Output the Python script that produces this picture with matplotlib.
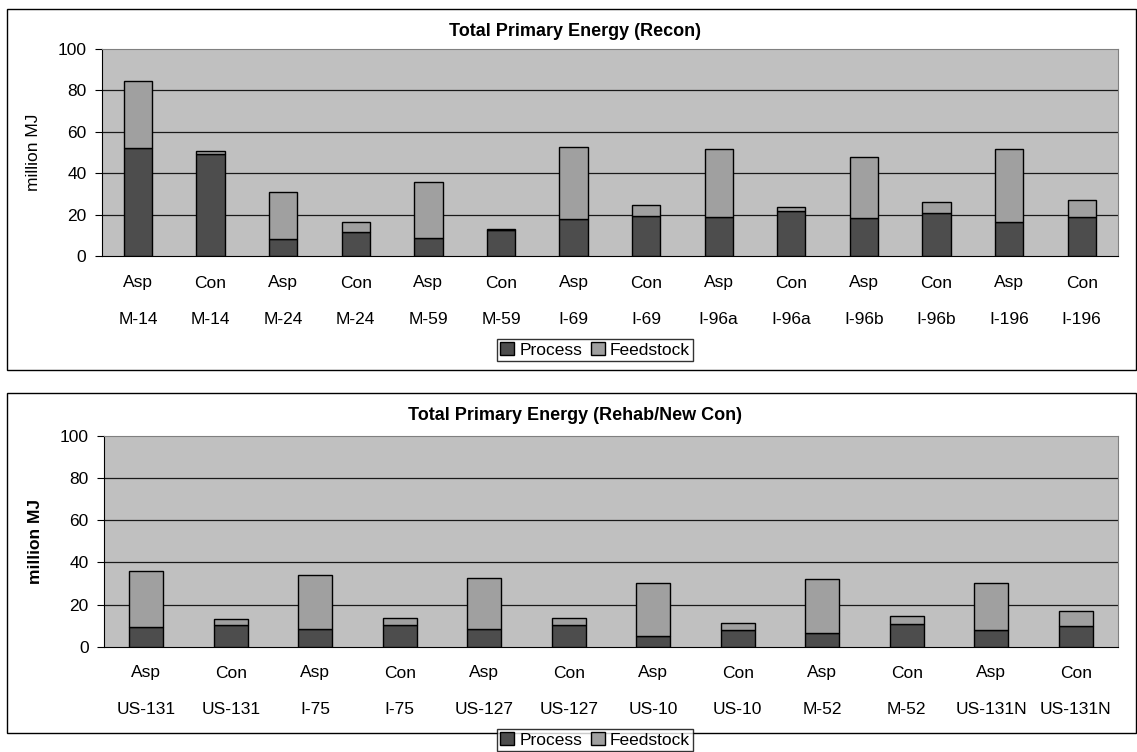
import matplotlib
matplotlib.use("Agg")
import matplotlib.pyplot as plt
import matplotlib.transforms as mtransforms
from matplotlib.patches import Rectangle, Patch
import numpy as np

plt.rcParams['font.family'] = ['Liberation Sans', 'DejaVu Sans']

# Reconstruction projects
recon_types = ["Asp", "Con"] * 7
recon_routes = ["M-14", "M-14", "M-24", "M-24", "M-59", "M-59", "I-69", "I-69",
                "I-96a", "I-96a", "I-96b", "I-96b", "I-196", "I-196"]
recon_process = [52.0, 49.1, 8.0, 11.4, 8.7, 12.6, 17.9, 19.5, 19.0, 21.9, 18.2, 20.9, 16.6, 18.8]
recon_feedstock = [32.5, 1.8, 22.9, 5.2, 27.2, 0.4, 34.9, 5.0, 32.7, 1.6, 29.8, 5.3, 35.1, 8.1]

# Rehabilitation / new construction projects
rehab_types = ["Asp", "Con"] * 6
rehab_routes = ["US-131", "US-131", "I-75", "I-75", "US-127", "US-127",
                "US-10", "US-10", "M-52", "M-52", "US-131N", "US-131N"]
rehab_process = [9.5, 10.5, 8.6, 10.5, 8.3, 10.5, 5.2, 8.1, 6.5, 10.8, 7.9, 10.0]
rehab_feedstock = [26.5, 2.7, 25.4, 3.2, 24.1, 3.3, 25.1, 3.0, 25.4, 3.7, 22.3, 7.1]

yticks = [0, 20, 40, 60, 80, 100]

W, H = 1137, 752
fig = plt.figure(figsize=(W / 100, H / 100), dpi=100)
fig.patch.set_facecolor("white")

C_PROC = "#4d4d4d"
C_FEED = "#a0a0a0"
C_BG = "#c0c0c0"


def fx(px):
    return px / W


def fy(py):
    return 1 - py / H


def panel(box, plot, title, types, routes, process, feedstock, bold_ylabel,
          title_y, row1_y, row2_y, legend_y, bar_w):
    x0, y0, x1, y1 = box
    fig.add_artist(Rectangle((fx(x0), fy(y1)), fx(x1 - x0), (y1 - y0) / H,
                             transform=fig.transFigure, fill=False,
                             edgecolor="black", linewidth=1.0))
    l, t, r, b = plot
    ax = fig.add_axes([fx(l), fy(b), fx(r - l), (b - t) / H])
    ax.set_facecolor(C_BG)
    x = np.arange(len(types))
    ax.bar(x, process, width=bar_w, color=C_PROC, edgecolor="black", linewidth=1.0, zorder=3)
    ax.bar(x, feedstock, bottom=process, width=bar_w, color=C_FEED,
           edgecolor="black", linewidth=1.0, zorder=3)
    ax.set_xlim(-0.5, len(types) - 0.5)
    ax.set_ylim(0, 100)
    ax.set_yticks(yticks)
    ax.tick_params(axis="y", length=5, width=0.8, labelsize=12.5, pad=6)
    ax.set_yticklabels([str(v) for v in yticks])
    for v in yticks[1:-1]:
        ax.axhline(v, color="#1a1a1a", linewidth=0.9, zorder=1)
    ax.set_xticks(x)
    ax.set_xticklabels([])
    ax.tick_params(axis="x", length=0)
    for s in ("top", "right"):
        ax.spines[s].set_color("#808080")
    for s in ("left", "bottom"):
        ax.spines[s].set_color("black")
    tr = mtransforms.blended_transform_factory(ax.transData, fig.transFigure)
    for xi, tt, rr in zip(x, types, routes):
        fig.text(xi, fy(row1_y), tt, transform=tr, ha="center", va="center", fontsize=12.5)
        fig.text(xi, fy(row2_y), rr, transform=tr, ha="center", va="center", fontsize=12.5)
    fig.text(fx(575), fy(title_y), title, ha="center", va="center",
             fontsize=13, fontweight="bold")
    ax.set_ylabel("million MJ", fontsize=12.5,
                  fontweight="bold" if bold_ylabel else "normal", labelpad=12)
    handles = [Patch(facecolor=C_PROC, edgecolor="black", label="Process"),
               Patch(facecolor=C_FEED, edgecolor="black", label="Feedstock")]
    leg = fig.legend(handles=handles, loc="center", bbox_to_anchor=(fx(595), fy(legend_y)),
                     ncol=2, fontsize=12.5, frameon=True, fancybox=False,
                     handlelength=0.8, handleheight=0.8, handletextpad=0.3,
                     columnspacing=0.5, borderpad=0.2, borderaxespad=0)
    leg.get_frame().set_edgecolor("black")
    leg.get_frame().set_linewidth(1.0)
    return ax


panel((7, 9, 1136, 370), (101.7, 49, 1118, 256), "Total Primary Energy (Recon)",
      recon_types, recon_routes, recon_process, recon_feedstock, False,
      32, 283, 319, 350, 0.39)
panel((7, 393, 1136, 733), (104, 436, 1118, 646.7), "Total Primary Energy (Rehab/New Con)",
      rehab_types, rehab_routes, rehab_process, rehab_feedstock, True,
      416, 673, 710, 740, 0.4)

fig.savefig("out.png", dpi=100)
